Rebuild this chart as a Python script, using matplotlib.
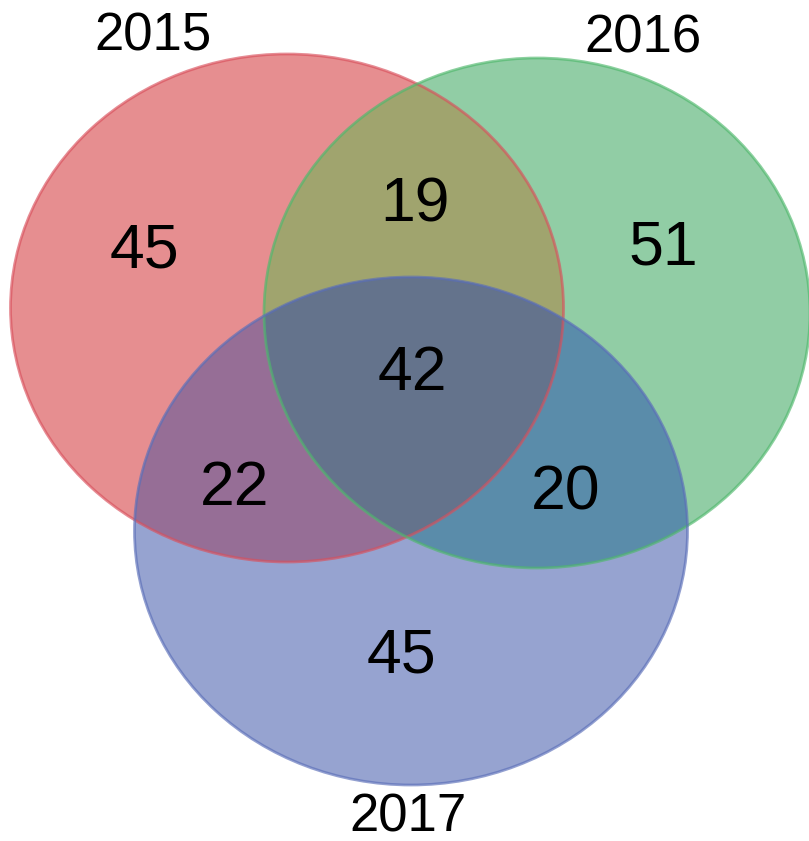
import numpy as np
import matplotlib.pyplot as plt
from matplotlib.patches import Ellipse, Polygon

# set names and region counts
sets = ['2015', '2016', '2017']
only_counts = [45, 51, 45]
pair_keys = [(0, 1), (0, 2), (1, 2)]
pair_counts = [19, 22, 20]
all_count = 42

# region colours (single, pair, triple)
only_colors = ['#e68e90', '#91cda5', '#96a3d0']
pair_colors = ['#a0a46e', '#966e96', '#5a8caa']
all_color = '#64738c'
edge_colors = ['#d9505c', '#4fb86c', '#5a6eb8']

plt.rcParams['font.family'] = ['Liberation Sans', 'DejaVu Sans']

fig = plt.figure(figsize=(8.09, 8.41), dpi=100)
ax = fig.add_axes([0, 0, 1, 1])
ax.set_xlim(0, 809)
ax.set_ylim(841, 0)
ax.axis('off')

# ellipse geometry (pixel coords)
centers = [(287, 308), (537, 313), (411, 531)]
sizes = [(553, 508), (546, 510), (553, 508)]


def boundary(i, n=2000):
    t = np.linspace(0, 2 * np.pi, n, endpoint=False)
    cx, cy = centers[i]
    w, h = sizes[i]
    return np.column_stack([cx + w / 2 * np.cos(t), cy + h / 2 * np.sin(t)])


def inside(pts, i):
    cx, cy = centers[i]
    w, h = sizes[i]
    return ((pts[:, 0] - cx) / (w / 2)) ** 2 + ((pts[:, 1] - cy) / (h / 2)) ** 2 <= 1.0 + 1e-9


def intersection(idx):
    # intersection of ellipses is convex: collect boundary points inside all, sort by angle
    pts = []
    for i in idx:
        b = boundary(i)
        keep = np.ones(len(b), bool)
        for j in idx:
            if j != i:
                keep &= inside(b, j)
        pts.append(b[keep])
    pts = np.vstack(pts)
    c = pts.mean(axis=0)
    ang = np.arctan2(pts[:, 1] - c[1], pts[:, 0] - c[0])
    return pts[np.argsort(ang)]


for i in range(3):
    ax.add_patch(Ellipse(centers[i], sizes[i][0], sizes[i][1], facecolor=only_colors[i],
                         edgecolor='none', zorder=1 + i))

for k, col in zip(pair_keys, pair_colors):
    ax.add_patch(Polygon(intersection(k), closed=True, facecolor=col, edgecolor='none', zorder=5))

ax.add_patch(Polygon(intersection((0, 1, 2)), closed=True, facecolor=all_color,
                     edgecolor='none', zorder=6))

for i in range(3):
    ax.add_patch(Ellipse(centers[i], sizes[i][0], sizes[i][1], facecolor='none',
                         edgecolor=edge_colors[i], lw=2, alpha=0.65, zorder=7))

# set labels
label_pos = [(153, 36), (643, 38), (408, 817)]
for name, p in zip(sets, label_pos):
    ax.text(p[0], p[1], name, fontsize=38, ha='center', va='center', zorder=8)

# region numbers
only_pos = [(144, 251), (663, 248), (401, 656)]
for n, p in zip(only_counts, only_pos):
    ax.text(p[0], p[1], str(n), fontsize=45, ha='center', va='center', zorder=8)

pair_pos = [(415, 205), (235, 488), (566, 493)]
for n, p in zip(pair_counts, pair_pos):
    ax.text(p[0], p[1], str(n), fontsize=45, ha='center', va='center', zorder=8)

ax.text(412, 373, str(all_count), fontsize=45, ha='center', va='center', zorder=8)

fig.savefig('out.png', dpi=100)
